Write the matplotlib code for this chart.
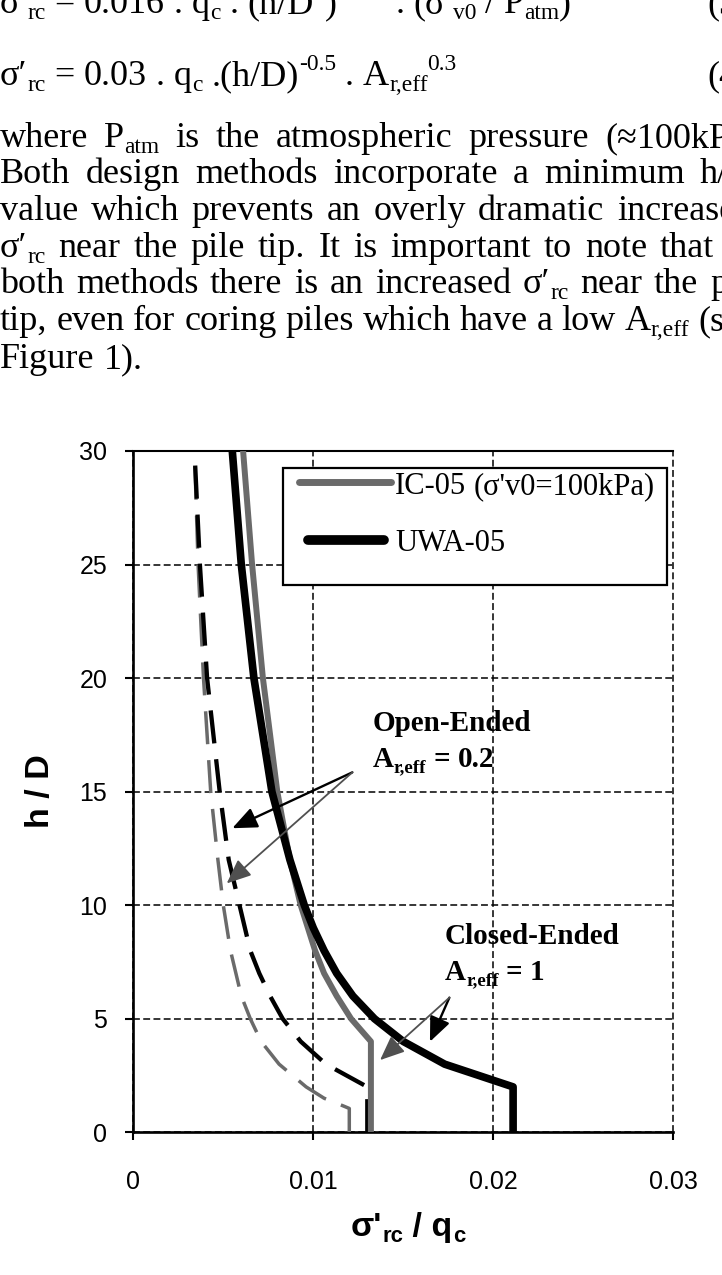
import re
import matplotlib
matplotlib.use('Agg')
import matplotlib.pyplot as plt
from matplotlib.lines import Line2D
from matplotlib.patches import Rectangle

# ---------------- data ----------------
h_uwa_closed = [0, 2, 3, 4, 5, 6, 7, 8, 9, 10, 12, 15, 20, 25, 30]
uwa_closed = [0.0211, 0.0211, 0.0173, 0.0150, 0.0134, 0.0122, 0.0113, 0.0106,
              0.0100, 0.0095, 0.0087, 0.0077, 0.0067, 0.0060, 0.0055]

h_uwa_open = [0, 2, 3, 4, 5, 6, 7, 8, 9, 10, 12, 15, 20, 25, 30]
uwa_open = [0.0130, 0.0130, 0.0107, 0.0093, 0.0083, 0.0076, 0.0070, 0.0065,
            0.0062, 0.0059, 0.0053, 0.0048, 0.0041, 0.0037, 0.0034]

h_ic_closed = [0, 4, 5, 6, 7, 8, 9, 10, 12, 15, 20, 25, 30]
ic_closed = [0.0132, 0.0132, 0.0121, 0.0113, 0.0106, 0.0101, 0.0097, 0.0093,
             0.0087, 0.0080, 0.0072, 0.0066, 0.0061]

h_ic_open = [0, 1.05, 1.15, 1.5, 2, 3, 4, 5, 6, 7, 8, 10, 12, 15, 20, 25, 30]
ic_open = [0.0120, 0.0120, 0.0117, 0.0106, 0.0096, 0.0081, 0.0071, 0.0065,
           0.0060, 0.0057, 0.0054, 0.0050, 0.0047, 0.0043, 0.0039, 0.0036, 0.0034]

x_ticks = [0, 0.01, 0.02, 0.03]
x_tick_labels = ['0', '0.01', '0.02', '0.03']
y_ticks = [0, 5, 10, 15, 20, 25, 30]

legend_labels = ["IC-05 (σ'v0=100kPa)", "UWA-05"]

# arrows: (start, tip) in data units
open_arrows = [((0.01217, 15.85), (0.0055, 13.39), 'black'),
               ((0.01217, 15.85), (0.00519, 10.96), '#505050')]
closed_arrows = [((0.01756, 5.93), (0.01648, 3.99), 'black'),
                 ((0.01756, 5.93), (0.01371, 3.18), '#505050')]

# page text
eq1 = ["σ′_{rc}", "=", "0.016", ".", "q_{c}", ".", "(h/D^{*})^{-0.38}", ".",
       "(σ′_{v0}", "/", "P_{atm})^{0.13}"]
eq2 = ["σ′_{rc}", "=", "0.03", ".", "q_{c}", ".(h/D)^{-0.5}", ".", "A_{r,eff}^{0.3}"]
body = [
    ("where P_{atm} is the atmospheric pressure (≈100kPa).", 147, 605),
    ("Both design methods incorporate a minimum h/D", 183, 700),
    ("value which prevents an overly dramatic increase", 220, 617),
    ("σ′_{rc} near the pile tip. It is important to note that", 257, 660),
    ("both methods there is an increased σ′_{rc} near the pile", 293, 710),
    ("tip, even for coring piles which have a low A_{r,eff} (see", 330, 698),
    ("Figure 1).", 368, None),
]

# ---------------- setup ----------------
plt.rcParams['font.family'] = ['Liberation Sans', 'DejaVu Sans']
SERIF = ['Liberation Serif', 'DejaVu Serif']
SANS = ['Liberation Sans', 'DejaVu Sans']

W, H, DPI = 722, 1275, 100
PT = DPI / 72.0
fig = plt.figure(figsize=(W / DPI, H / DPI), dpi=DPI)
fig.patch.set_facecolor('white')
R = fig.canvas.get_renderer()


def fx(x):
    return x / W


def fy(y):
    return 1 - y / H


PAT = re.compile(r'(_\{[^}]*\}|\^\{[^}]*\})')


def parse(word):
    segs = []
    for part in PAT.split(word):
        if not part:
            continue
        if part.startswith('_{'):
            segs.append((part[2:-1], 'sub'))
        elif part.startswith('^{'):
            segs.append((part[2:-1], 'sup'))
        else:
            segs.append((part, 'n'))
    return segs


def build(word, size, family, weight='normal', color='black', scale=0.65):
    arts = []
    x = 0.0
    for s, kind in parse(word):
        fs = size if kind == 'n' else size * scale
        if kind == 'n':
            dy = 0
        elif kind == 'sub':
            dy = 0.17 * size * PT
        else:
            dy = -0.42 * size * PT
        t = fig.text(0, 0, s, fontsize=fs, family=family, weight=weight,
                     color=color, ha='left', va='baseline', zorder=6)
        w = t.get_window_extent(R).width
        arts.append((t, x, dy))
        x += w
    return arts, x


def place(arts, x0, base):
    for t, dx, dy in arts:
        t.set_position((fx(x0 + dx), fy(base + dy)))


def space_w(size, family, weight='normal'):
    a = fig.text(0, 0, 'a a', fontsize=size, family=family, weight=weight)
    b = fig.text(0, 0, 'aa', fontsize=size, family=family, weight=weight)
    w = a.get_window_extent(R).width - b.get_window_extent(R).width
    a.remove()
    b.remove()
    return w


def line(words, base, size, family, weight='normal', x0=0.0, last_x=None,
         color='black'):
    built = [build(w, size, family, weight, color) for w in words]
    if last_x is None or len(words) < 2:
        gap = space_w(size, family, weight)
    else:
        tot = sum(b[1] for b in built[:-1])
        gap = (last_x - x0 - tot) / (len(words) - 1)
    x = x0
    for arts, w in built:
        place(arts, x, base)
        x += w + gap
    return x


# ---------------- page text ----------------
BODY = 26
line(eq1, 13, BODY, SERIF)
line(["(3)"], 13, BODY, SERIF, x0=707)
line(eq2, 85, BODY, SERIF)
line(["(4)"], 85, BODY, SERIF, x0=707)
for txt, base, last in body:
    line(txt.split(' '), base, BODY, SERIF, last_x=last)

# ---------------- chart ----------------
ax = fig.add_axes([133.3 / W, 1 - 1132.3 / H, 540 / W, (1132.3 - 451) / H])
ax.set_xlim(0, 0.03)
ax.set_ylim(0, 30)
ax.set_xticks(x_ticks)
ax.set_xticklabels(x_tick_labels)
ax.set_yticks(y_ticks)
ax.tick_params(axis='both', direction='out', length=5.8, width=1.5,
               labelsize=18, colors='black')
ax.tick_params(axis='x', pad=21)
ax.tick_params(axis='y', pad=13)
for side in ['left', 'bottom']:
    ax.spines[side].set_linewidth(1.9)
ax.spines['top'].set_linewidth(1.5)
ax.spines['right'].set_visible(False)
ax.set_axisbelow(True)
ax.grid(True, color='black', linewidth=1.1, linestyle=(0, (4.5, 2.2)))
for gl in ax.get_xgridlines() + ax.get_ygridlines():
    gl.set_clip_on(False)

GRAY = '#6a6a6a'
ax.plot(ic_open, h_ic_open, color=GRAY, lw=2.5, linestyle=(0, (9.5, 4.6)),
        dash_capstyle='butt', zorder=3)
ax.plot(uwa_open, h_uwa_open, color='black', lw=3.1, linestyle=(0, (7.7, 3.7)),
        dash_capstyle='butt', zorder=3)
ax.plot(ic_closed, h_ic_closed, color=GRAY, lw=4.3, solid_joinstyle='round',
        zorder=4)
ax.plot(uwa_closed, h_uwa_closed, color='black', lw=5.5, solid_joinstyle='round',
        zorder=5)

for start, tip, col in open_arrows + closed_arrows:
    ax.annotate('', xy=tip, xytext=start,
                arrowprops=dict(arrowstyle='-|>,head_length=0.75,head_width=0.32',
                                color=col, lw=1.7 if col == 'black' else 1.3,
                                shrinkA=0, shrinkB=0, mutation_scale=20),
                zorder=6)

# annotations text
ANN = 21
line(["Open-Ended"], 731, ANN, SERIF, weight='bold', x0=373)
line(["A_{r,eff}", "=", "0.2"], 767, ANN, SERIF, weight='bold', x0=373)
line(["Closed-Ended"], 944, ANN, SERIF, weight='bold', x0=445)
line(["A_{r,eff}", "=", "1"], 980, ANN, SERIF, weight='bold', x0=445)

# legend (drawn as a box like the original)
fig.add_artist(Rectangle((fx(283), fy(585)), (667 - 283) / W, (585 - 468) / H,
                         transform=fig.transFigure, facecolor='white',
                         edgecolor='black', lw=1.6, zorder=5))
fig.add_artist(Line2D([fx(299), fx(391)], [fy(482), fy(482)],
                      transform=fig.transFigure, color=GRAY, lw=5.0,
                      solid_capstyle='round', zorder=6))
fig.add_artist(Line2D([fx(308), fx(384)], [fy(540), fy(540)],
                      transform=fig.transFigure, color='black', lw=7.0,
                      solid_capstyle='round', zorder=6))
line(legend_labels[0].split(' '), 494, 22, SERIF, x0=395)
line([legend_labels[1]], 551, 22, SERIF, x0=395)

# axis labels
arts, w = build("σ'_{rc} / q_{c}", 24.5, SANS, weight='bold')
place(arts, 408 - w / 2, 1236)
fig.text(fx(40), fy(791), "h / D", fontsize=24.5, family=SANS, weight='bold',
         rotation=90, ha='center', va='center')

fig.savefig('out.png', dpi=DPI, facecolor='white')
